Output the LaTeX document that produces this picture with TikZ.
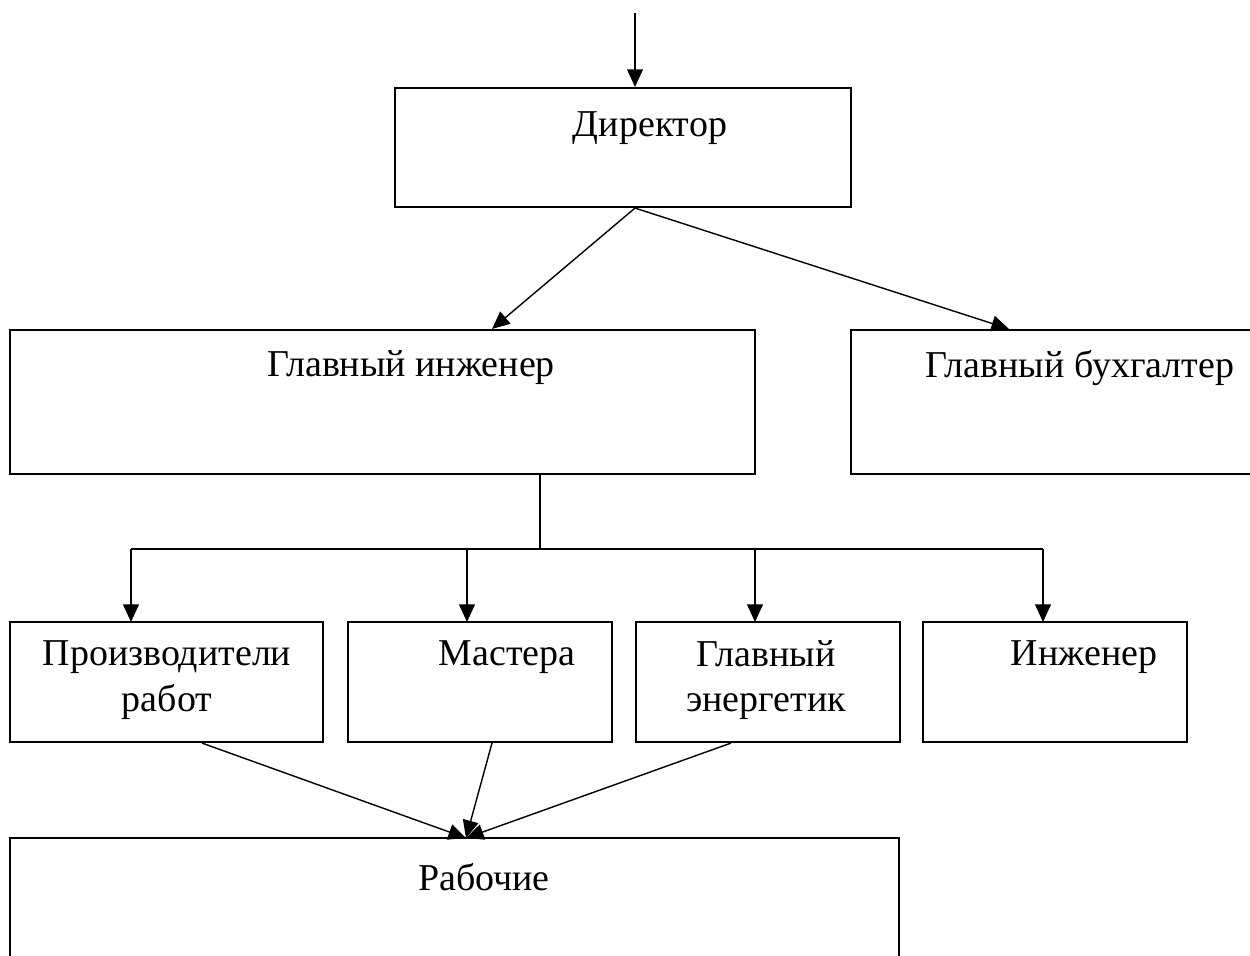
\documentclass[tikz,border=0pt]{standalone}
\usepackage{fontspec}
\setmainfont{Liberation Serif}
\usetikzlibrary{arrows.meta,positioning,calc}

\tikzset{
    box/.style={draw, line width=1.2pt, inner sep=0pt},
    txt/.style={font=\fontsize{21.6}{26}\selectfont, align=center, inner sep=0pt},
    link/.style={line width=0.8pt},
    >={Triangle[length=10pt,width=9pt]}
}

\begin{document}
\begin{tikzpicture}
    \useasboundingbox (0,0) rectangle (25,-19.1);

    % Boxes
    \node[box, minimum width=9.12cm, minimum height=2.38cm] (dir) at (12.46,-2.95) {};
    \node[box, minimum width=14.9cm, minimum height=2.88cm] (eng) at (7.65,-8.04) {};
    \node[box, minimum width=8.18cm, minimum height=2.88cm] (acc) at (21.11,-8.04) {};
    \node[box, minimum width=6.26cm, minimum height=2.4cm] (prod) at (3.33,-13.64) {};
    \node[box, minimum width=5.28cm, minimum height=2.4cm] (mast) at (9.6,-13.64) {};
    \node[box, minimum width=5.28cm, minimum height=2.4cm] (energ) at (15.36,-13.64) {};
    \node[box, minimum width=5.28cm, minimum height=2.4cm] (ing) at (21.1,-13.64) {};
    \node[box, minimum width=17.78cm, minimum height=2.84cm] (work) at (9.09,-18.18) {};

    % Labels
    \node[txt] (dirT) at (13.0,-2.56) {Директор};
    \node[txt] (engT) at (8.22,-7.36) {Главный инженер};
    \node[txt] (accT) at (21.6,-7.36) {Главный бухгалтер};
    \node[txt] (prodT) at (3.34,-13.6) {Производители\\работ};
    \node[txt] (mastT) at (10.14,-13.14) {Мастера};
    \node[txt] (energT) at (15.32,-13.6) {Главный\\энергетик};
    \node[txt] (ingT) at (21.68,-13.14) {Инженер};
    \node[txt] (workT) at (9.68,-17.54) {Рабочие};

    % Incoming arrow
    \coordinate (in) at (12.7,-0.26);
    \draw[link, ->] (in) -- (in |- dir.north);

    % Director to chiefs
    \coordinate (dirout) at (in |- dir.south);
    \draw[link, ->] (dirout) -- ($(eng.north)+(2.19,0)$);
    \draw[link, ->] (dirout) -- ($(acc.north)+(-0.93,0)$);

    % Chief engineer to staff
    \coordinate (engout) at (10.8,-9.48);
    \coordinate (bus) at (10.8,-10.98);
    \draw[link] (engout) -- (bus);
    \draw[link] (2.62,-10.98) -- (20.86,-10.98);
    \foreach \x/\n in {2.62/prod, 9.34/mast, 15.1/energ, 20.86/ing} {
        \draw[link, ->] (\x,-10.98) -- (\x,-12.44);
    }

    % Staff to workers
    \coordinate (workin) at (9.32,-16.76);
    \draw[link, ->] ($(prod.south)+(0.71,0)$) -- (workin);
    \draw[link, ->] ($(mast.south)+(0.24,0)$) -- (workin);
    \draw[link, ->] ($(energ.south)+(-0.74,0)$) -- (workin);

\end{tikzpicture}
\end{document}
